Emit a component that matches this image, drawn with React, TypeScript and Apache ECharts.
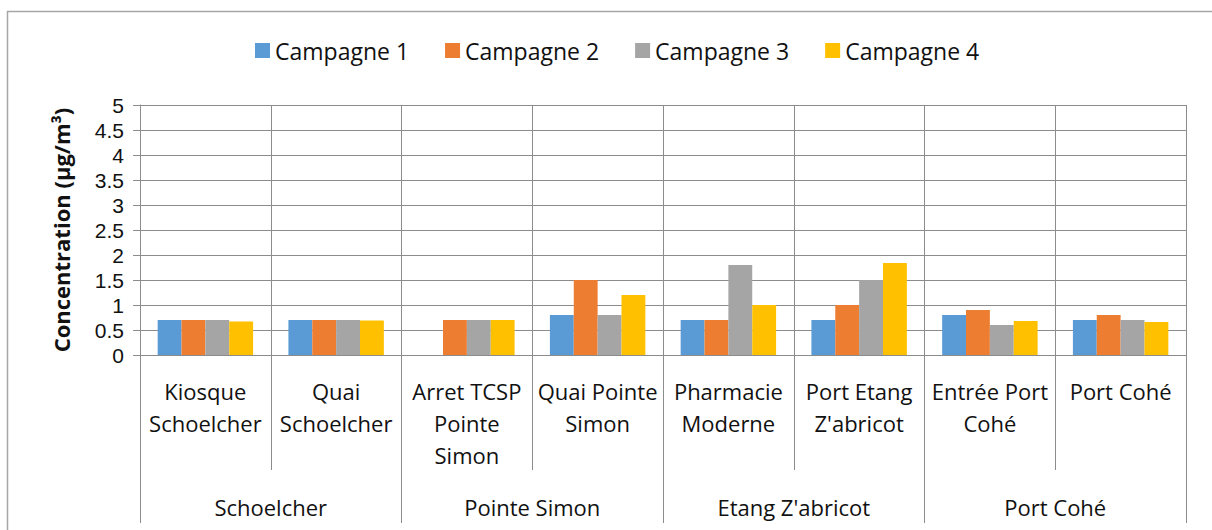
import React, { useEffect, useRef } from "react";
import * as echarts from "echarts";

const categories = [
  "Kiosque\nSchoelcher",
  "Quai\nSchoelcher",
  "Arret TCSP\nPointe\nSimon",
  "Quai Pointe\nSimon",
  "Pharmacie\nModerne",
  "Port Etang\nZ'abricot",
  "Entrée Port\nCohé",
  "Port Cohé",
];
const groups = ["Schoelcher", "Pointe Simon", "Etang Z'abricot", "Port Cohé"];
const seriesNames = ["Campagne 1", "Campagne 2", "Campagne 3", "Campagne 4"];
const campagne1 = [0.7, 0.7, null, 0.8, 0.7, 0.7, 0.8, 0.7];
const campagne2 = [0.7, 0.7, 0.7, 1.5, 0.7, 1.0, 0.9, 0.8];
const campagne3 = [0.7, 0.7, 0.7, 0.8, 1.8, 1.5, 0.6, 0.7];
const campagne4 = [0.67, 0.69, 0.7, 1.2, 1.0, 1.84, 0.68, 0.66];
const colors = ["#5B9BD5", "#ED7D31", "#A5A5A5", "#FFC000"];

const FONT = "Open Sans";
const TXT = "#111111";
const LINE = "#8c8c8c";

export default function App() {
  const ref = useRef<HTMLDivElement>(null);
  useEffect(() => {
    if (!ref.current) return;
    const chart = echarts.init(ref.current, undefined, { renderer: "svg" });
    const values = [campagne1, campagne2, campagne3, campagne4];
    chart.setOption({
      animation: false,
      textStyle: { fontFamily: FONT },
      legend: {
        left: 250,
        top: 34,
        icon: "rect",
        itemWidth: 15,
        itemHeight: 15,
        itemGap: 36,
        textStyle: { fontSize: 23, color: TXT, fontFamily: FONT },
        data: seriesNames,
      },
      grid: { left: 140, right: 26, top: 105, bottom: 175, containLabel: false },
      graphic: [
        {
          type: "rect",
          shape: { x: 7.5, y: 11.5, width: 1400, height: 700 },
          style: { fill: "none", stroke: "#a6a6a6", lineWidth: 1.5 },
          silent: true,
        },
      ],
      xAxis: [
        {
          type: "category",
          data: categories,
          position: "bottom",
          axisLine: { show: true, lineStyle: { color: LINE, width: 1 } },
          axisTick: { show: true, length: 115, interval: 0, lineStyle: { color: LINE } },
          splitLine: { show: true, interval: 0, lineStyle: { color: LINE } },
          axisLabel: {
            interval: 0,
            fontSize: 22,
            lineHeight: 32,
            color: TXT,
            fontFamily: FONT,
            margin: 20,
            verticalAlign: "top",
          },
        },
        {
          type: "category",
          data: groups,
          position: "bottom",
          axisLine: { show: false },
          axisTick: { show: true, length: 168, interval: 0, lineStyle: { color: LINE } },
          splitLine: { show: false },
          axisLabel: {
            interval: 0,
            fontSize: 22,
            lineHeight: 32,
            color: TXT,
            fontFamily: FONT,
            margin: 136,
            verticalAlign: "top",
          },
        },
      ],
      yAxis: {
        type: "value",
        min: 0,
        max: 5,
        interval: 0.5,
        name: "Concentration (µg/m³)",
        nameLocation: "middle",
        nameGap: 68,
        nameTextStyle: { fontSize: 22, fontWeight: "bold", color: TXT, fontFamily: FONT },
        axisLine: { show: true, lineStyle: { color: LINE } },
        axisTick: { show: true, length: 7, lineStyle: { color: LINE } },
        splitLine: { show: true, lineStyle: { color: LINE } },
        axisLabel: {
          fontSize: 21,
          lineHeight: 21,
          color: TXT,
          fontFamily: "Liberation Sans",
          margin: 16,
        },
      },
      series: seriesNames.map((name, i) => ({
        name,
        type: "bar",
        xAxisIndex: 0,
        data: values[i],
        itemStyle: { color: colors[i] },
        barGap: "0%",
        barCategoryGap: "27%",
      })),
    });
    return () => chart.dispose();
  }, []);
  return (
    <div
      ref={ref}
      style={{ position: "absolute", left: 0, top: 0, width: 1212, height: 530, background: "#fff" }}
    />
  );
}
